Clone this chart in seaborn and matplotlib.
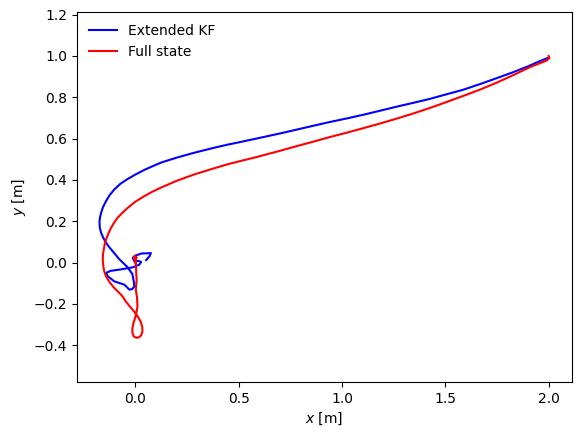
import numpy as np
import pandas as pd
import matplotlib
matplotlib.use("Agg")
import matplotlib.pyplot as plt
import seaborn as sns

# trajectory (x, y in metres)
ekf_x = [2.0, 1.95, 1.908, 1.83, 1.747, 1.665, 1.585, 1.50, 1.424, 1.34, 1.262, 1.18, 1.101,
         1.02, 0.939, 0.86, 0.778, 0.70, 0.617, 0.576, 0.51, 0.447, 0.37, 0.286, 0.2, 0.124,
         0.08, 0.044, 0.0, -0.037, -0.072, -0.102, -0.125, -0.142, -0.157, -0.166, -0.172,
         -0.174, -0.172, -0.166, -0.155, -0.142, -0.127, -0.110, -0.077, -0.04, -0.015,
         -0.008, -0.005, -0.015, -0.029, -0.053, -0.102, -0.134, -0.142, -0.12, -0.077,
         -0.013, 0.019, 0.028, 0.015, -0.005, -0.013, 0.003, 0.03, 0.06, 0.075, 0.068, 0.052]
ekf_y = [0.992, 0.972, 0.953, 0.922, 0.892, 0.863, 0.836, 0.813, 0.792, 0.772, 0.754, 0.734, 0.715,
         0.697, 0.68, 0.662, 0.643, 0.625, 0.607, 0.598, 0.584, 0.571, 0.553, 0.532, 0.508, 0.484,
         0.465, 0.449, 0.426, 0.405, 0.382, 0.354, 0.326, 0.298, 0.268, 0.241, 0.215,
         0.193, 0.168, 0.144, 0.119, 0.096, 0.075, 0.055, 0.015, -0.02, -0.055,
         -0.09, -0.115, -0.128, -0.131, -0.107, -0.091, -0.066, -0.05, -0.04, -0.034,
         -0.023, -0.01, 0.003, 0.008, 0.005, 0.023, 0.035, 0.044, 0.045, 0.046, 0.03, 0.012]

full_x = [2.0, 2.004, 1.99, 1.95, 1.908, 1.83, 1.747, 1.665, 1.585, 1.50, 1.424, 1.34, 1.262,
          1.18, 1.101, 1.02, 0.939, 0.86, 0.778, 0.70, 0.617, 0.576, 0.51, 0.447, 0.37, 0.286,
          0.2, 0.124, 0.08, 0.044, 0.0, -0.037, -0.062, -0.086, -0.104, -0.118, -0.131, -0.142,
          -0.149, -0.153, -0.157, -0.158, -0.155, -0.15, -0.142, -0.125, -0.105, -0.085, -0.065,
          -0.045, -0.025, -0.005, 0.012, 0.025, 0.033, 0.034, 0.028, 0.017, 0.005, -0.007,
          -0.014, -0.015, -0.01, -0.002, 0.005, 0.01, 0.008, 0.002, 0.006, 0.004, 0.003, 0.0,
          0.006, 0.0, -0.008, -0.004, 0.0]
full_y = [1.0, 0.99, 0.978, 0.962, 0.945, 0.908, 0.87, 0.836, 0.806, 0.775, 0.748, 0.72, 0.696,
          0.672, 0.65, 0.628, 0.607, 0.585, 0.563, 0.541, 0.519, 0.508, 0.492, 0.476, 0.453, 0.427,
          0.396, 0.363, 0.342, 0.322, 0.295, 0.265, 0.242, 0.217, 0.192, 0.168, 0.14, 0.112,
          0.087, 0.063, 0.04, 0.015, -0.02, -0.045, -0.066, -0.095, -0.12, -0.14, -0.16,
          -0.19, -0.215, -0.238, -0.262, -0.285, -0.31, -0.335, -0.352, -0.362, -0.364, -0.358,
          -0.343, -0.32, -0.295, -0.27, -0.243, -0.214, -0.17, -0.13, -0.083, -0.05, -0.018, 0.012,
          0.024, 0.034, 0.028, 0.017, 0.0]

ekf = pd.DataFrame({"x": ekf_x, "y": ekf_y})
full = pd.DataFrame({"x": full_x, "y": full_y})

fig, ax = plt.subplots(figsize=(5.83, 4.38), dpi=100)
fig.subplots_adjust(left=0.132, right=0.981, top=0.973, bottom=0.128)

sns.lineplot(data=ekf, x="x", y="y", sort=False, estimator=None, color="blue",
             label="Extended KF", ax=ax)
sns.lineplot(data=full, x="x", y="y", sort=False, estimator=None, color="red",
             label="Full state", ax=ax)

ax.set_aspect("equal", adjustable="datalim")
ax.set_xlabel("$x$ [m]")
ax.set_ylabel("$y$ [m]")
ax.legend(loc="upper left", frameon=False)

fig.savefig("out.png", dpi=100)
